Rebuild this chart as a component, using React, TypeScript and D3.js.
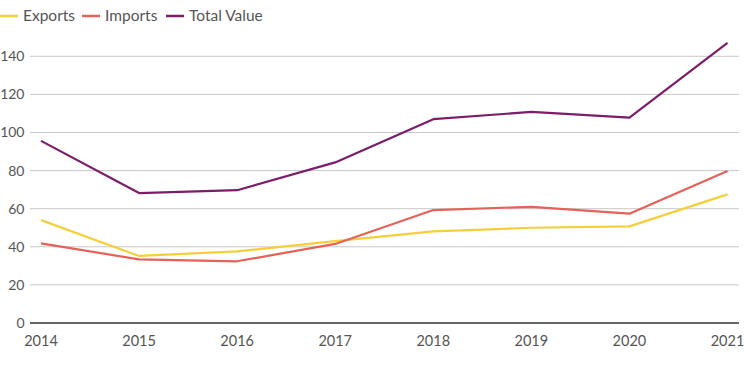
import React from "react";
import * as d3 from "d3";

const years = ["2014", "2015", "2016", "2017", "2018", "2019", "2020", "2021"];
const exportsVals = [54, 35.2, 37.6, 43, 48.1, 50, 50.7, 67.5];
const importsVals = [41.8, 33.4, 32.4, 41.5, 59.3, 61, 57.4, 79.8];
const totalVals = [95.6, 68.2, 69.7, 84.3, 107, 110.8, 107.8, 147];
const yTicks = [0, 20, 40, 60, 80, 100, 120, 140];

const seriesNames = ["Exports", "Imports", "Total Value"];
const seriesColors = ["#f5cf3b", "#e4625a", "#7b1d69"];

export default function App() {
  const W = 745, H = 375;
  const font = "Lato, 'Open Sans', sans-serif";
  const x = d3.scalePoint<string>().domain(years).range([41, 727.5]);
  const y = d3.scaleLinear().domain([0, 140]).range([323, 56.3]);
  const line = d3
    .line<number>()
    .x((_, i) => x(years[i]) as number)
    .y((d) => y(d));
  const series = [exportsVals, importsVals, totalVals];
  const legendX = [0, 82, 166];

  return (
    <svg
      width={W}
      height={H}
      style={{ position: "absolute", left: 0, top: 0 }}
      fontFamily={font}
    >
      {yTicks.map((t) => (
        <g key={t}>
          <line
            x1={30}
            x2={739}
            y1={y(t)}
            y2={y(t)}
            stroke={t === 0 ? "#333" : "#c8c8c8"}
            strokeWidth={t === 0 ? 1.5 : 1}
          />
          <text
            x={24.5}
            y={y(t)}
            dy="0.35em"
            textAnchor="end"
            fontSize={14}
            fill="#555"
          >
            {t}
          </text>
        </g>
      ))}
      {years.map((yr) => (
        <text
          key={yr}
          x={x(yr) as number}
          y={346}
          textAnchor="middle"
          fontSize={14.5}
          fill="#555"
        >
          {yr}
        </text>
      ))}
      {series.map((s, i) => (
        <path
          key={i}
          d={line(s) as string}
          fill="none"
          stroke={seriesColors[i]}
          strokeWidth={2.2}
          strokeLinejoin="round"
        />
      ))}
      {seriesNames.map((n, i) => (
        <g key={n} transform={`translate(${legendX[i]},0)`}>
          <line x1={0} x2={18} y1={16} y2={16} stroke={seriesColors[i]} strokeWidth={2.5} />
          <text x={23} y={16} dy="0.35em" fontSize={15.5} fill="#555">
            {n}
          </text>
        </g>
      ))}
    </svg>
  );
}
